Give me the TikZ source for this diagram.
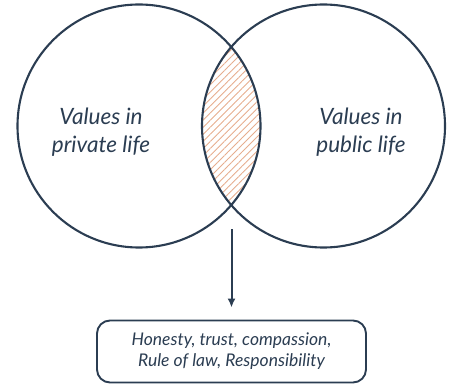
\documentclass[tikz,border=0pt]{standalone}
\usepackage{fontspec}
\setmainfont{Lato}
\usepackage{tikz}
\usetikzlibrary{patterns.meta,arrows.meta}

\definecolor{navy}{HTML}{2B3D52}
\definecolor{salmon}{HTML}{E6AD8E}

\begin{document}
\begin{tikzpicture}[x=1pt,y=-1pt,>={Latex[length=9pt,width=8pt]},
	ring/.style={draw=navy,line width=2.1pt},
	lbl/.style={text=navy,align=center,font=\fontsize{22.5}{28}\selectfont\itshape},
	valbox/.style={draw=navy,line width=1.9pt,rounded corners=13pt,minimum width=269pt,minimum height=62pt,text=navy,align=center,font=\fontsize{17.5}{21}\selectfont\itshape}]
						\useasboundingbox (0,0) rectangle (457,387);

						% shaded overlap
						\begin{scope}
							\clip (139,126) circle (121.5);
							\fill[pattern={Lines[angle=45,distance=5pt,line width=0.9pt]},pattern color=salmon] (323.5,126) circle (121.5);
						\end{scope}

						\draw[ring] (139,126) circle (121.5);
						\draw[ring] (323.5,126) circle (121.5);

						\node[lbl] (private) at (101,132) {Values in\\private life};
						\node[lbl] (public) at (361,132) {Values in\\public life};

						\node[valbox] (values) at (231.5,351.5) {Honesty, trust, compassion,\\Rule of law, Responsibility};
						\coordinate (from) at (231.5,229);
						\draw[->,navy,line width=2pt,shorten >=12pt] (from) -- (values.north);
					\end{tikzpicture}
\end{document}
